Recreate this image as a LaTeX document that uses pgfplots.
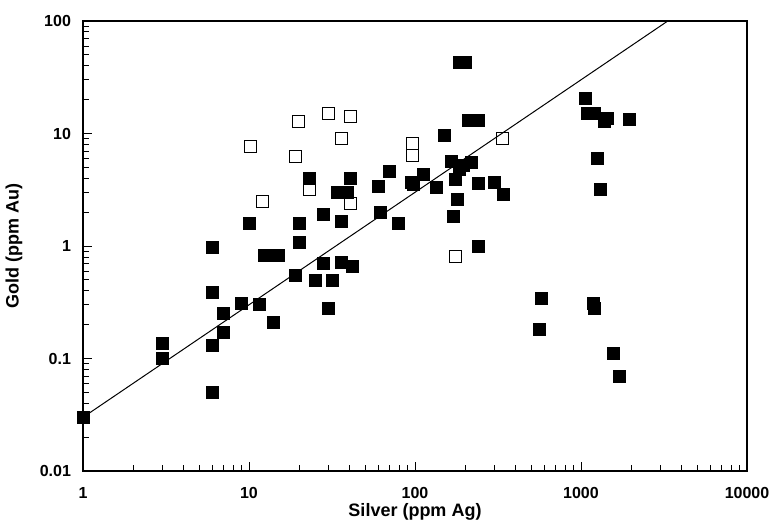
\documentclass[border=0pt]{standalone}
\usepackage{pgfplots}
\pgfplotsset{compat=1.18}
\usepackage{fontspec}
\setmainfont{Liberation Sans}
\begin{document}
\begin{tikzpicture}
\begin{axis}[
  xmode=log, ymode=log,
  scale only axis, width=332pt, height=225pt,
  xmin=1, xmax=10000, ymin=0.01, ymax=100,
  xtick={1,10,100,1000,10000},
  xticklabels={1,10,100,1000,10000},
  ytick={0.01,0.1,1,10,100},
  yticklabels={0.01,0.1,1,10,100},
  minor xtick={2,3,4,5,6,7,8,9,20,30,40,50,60,70,80,90,200,300,400,500,600,700,800,900,2000,3000,4000,5000,6000,7000,8000,9000},
  minor ytick={0.02,0.03,0.04,0.05,0.06,0.07,0.08,0.09,0.2,0.3,0.4,0.5,0.6,0.7,0.8,0.9,2,3,4,5,6,7,8,9,20,30,40,50,60,70,80,90},
  xtick pos=bottom, ytick pos=left,
  tick align=inside,
  major tick length=4.5pt, minor tick length=3pt,
  axis line style={line width=0.6pt},
  every tick/.style={black, line width=0.4pt},
  tick label style={font=\fontsize{8}{9.6}\selectfont\bfseries},
  xticklabel style={yshift=-4.5pt},
  yticklabel style={xshift=-2.5pt},
  xlabel={Silver (ppm Ag)}, ylabel={Gold (ppm Au)},
  every axis x label/.style={at={(axis description cs:0.5,-0.1)}, anchor=base, font=\fontsize{9}{11}\selectfont\bfseries},
  every axis y label/.style={at={(axis description cs:-0.1039,0.5)}, anchor=center, rotate=90, font=\fontsize{9}{11}\selectfont\bfseries},
  clip=false,
]
\coordinate (bl) at (rel axis cs:0,0);
\coordinate (tr) at (rel axis cs:1,1);
\addplot[black, line width=0.5pt] coordinates {(1,0.03) (3333.3,100)};
\addplot[only marks, mark=square*, mark size=3pt, mark options={fill=black, draw=black}] coordinates {
(1,0.03) (3,0.135) (3,0.1) (6,0.97) (6,0.39) (6,0.13) (6,0.05)
(7,0.25) (7,0.17) (9,0.31) (10,1.6) (11.5,0.3)
(12.3,0.83) (13.5,0.83) (15,0.82) (14,0.21)
(19,0.55) (20,1.08) (20,1.6) (23,3.95) (25,0.49) (32,0.49) (30,0.28)
(28,0.7) (36,0.71) (42,0.66) (28,1.9) (36,1.65)
(34,3.0) (39,3.0) (41,3.95) (60,3.4) (62,2.0) (70,4.6) (79,1.6)
(95,3.7) (98,3.5) (112,4.3) (135,3.3) (150,9.7) (165,5.7)
(185,4.8) (195,5.2) (220,5.5) (175,3.9) (240,3.6) (300,3.7) (340,2.9)
(180,2.6) (170,1.85) (240,1.0)
(185,43) (200,43) (210,13) (240,13.2)
(1060,20.5) (1100,15) (1200,15) (1380,12.8) (1450,13.7) (1950,13.3)
(1250,6.0) (1300,3.2)
(580,0.34) (560,0.18) (1180,0.31) (1200,0.28) (1560,0.11) (1700,0.07)
};
\addplot[only marks, mark=square, mark size=3pt, mark options={draw=black, line width=0.5pt, fill=white}] coordinates {
(10.2,7.6) (12,2.5) (20,12.7) (30,15.2) (41,14.3) (36,9.0) (19,6.3)
(23,3.2) (41,2.4) (97,8.2) (96,6.4) (335,9.0) (175,0.8)
};
\end{axis}
\pgfresetboundingbox
\path (bl) ++(-41.5pt,-28pt) coordinate (a);
\path (tr) ++(12pt,10.5pt) coordinate (b);
\useasboundingbox (a) rectangle (b);
\end{tikzpicture}
\end{document}
